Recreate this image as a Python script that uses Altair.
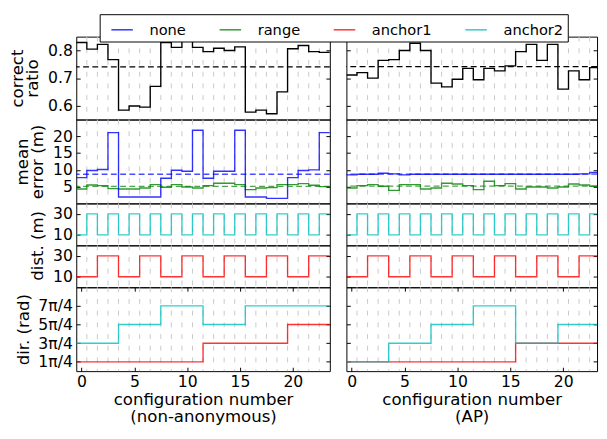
import altair as alt
import pandas as pd

FONT = "DejaVu Sans"

series_names = ["none", "range", "anchor1", "anchor2"]
series_colors = ["#0000ff", "#008000", "#ff0000", "#00bfbf"]

configs = list(range(24))
x_ticks = [0, 5, 10, 15, 20]

ratio_left = [0.829, 0.805, 0.822, 0.767, 0.584, 0.599, 0.595, 0.670,
              0.829, 0.811, 0.843, 0.811, 0.796, 0.808, 0.800, 0.813,
              0.577, 0.584, 0.571, 0.650, 0.806, 0.818, 0.796, 0.793]
ratio_right = [0.711, 0.720, 0.700, 0.764, 0.767, 0.800, 0.826, 0.800,
               0.682, 0.668, 0.696, 0.735, 0.694, 0.735, 0.726, 0.744,
               0.796, 0.822, 0.764, 0.822, 0.660, 0.726, 0.694, 0.738]
err_none_left = [7.7, 9.8, 10.1, 21.1, 1.9, 1.9, 1.9, 1.9,
                 7.5, 9.9, 9.6, 21.8, 7.5, 9.6, 9.6, 21.8,
                 1.9, 1.9, 1.5, 1.5, 7.7, 9.8, 10.0, 21.1]
err_range_left = [4.3, 5.5, 5.3, 4.4, 4.3, 4.3, 4.6, 5.6,
                  4.8, 5.6, 4.9, 4.6, 5.3, 6.0, 6.0, 5.6,
                  4.1, 4.6, 4.7, 5.6, 5.6, 5.9, 5.4, 5.0]
err_none_right = [8.5, 8.7, 8.7, 9.0, 8.8, 8.5, 8.7, 8.7,
                  8.7, 8.7, 8.7, 8.7, 8.7, 8.7, 8.7, 8.7,
                  8.7, 8.7, 8.7, 8.7, 8.7, 8.7, 8.8, 9.2]
err_range_right = [4.6, 5.3, 5.6, 5.1, 3.9, 5.6, 5.6, 4.3,
                   4.6, 6.0, 5.8, 5.3, 4.1, 6.6, 5.3, 5.9,
                   4.3, 4.9, 4.9, 4.6, 4.9, 5.8, 5.5, 5.1]
dist_anchor2 = [10, 30, 10, 30, 10, 30, 10, 30, 10, 30, 10, 30,
                10, 30, 10, 30, 10, 30, 10, 30, 10, 30, 10, 30]
dist_anchor1 = [10, 10, 30, 30, 10, 10, 30, 30, 10, 10, 30, 30,
                10, 10, 30, 30, 10, 10, 30, 30, 10, 10, 30, 30]
# direction in units of pi/4
dir_anchor1_left = [1, 1, 1, 1, 1, 1, 1, 1, 1, 1, 1, 1,
                    3, 3, 3, 3, 3, 3, 3, 3, 5, 5, 5, 5]
dir_anchor2_left = [3, 3, 3, 3, 5, 5, 5, 5, 7, 7, 7, 7,
                    5, 5, 5, 5, 7, 7, 7, 7, 7, 7, 7, 7]
dir_anchor1_right = [1, 1, 1, 1, 1, 1, 1, 1, 1, 1, 1, 1,
                     1, 1, 1, 1, 3, 3, 3, 3, 3, 3, 3, 3]
dir_anchor2_right = [1, 1, 1, 1, 3, 3, 3, 3, 5, 5, 5, 5,
                     7, 7, 7, 7, 3, 3, 3, 3, 5, 5, 5, 5]
dir_ticks = [1, 3, 5, 7]

LEFT_W, RIGHT_W = 260, 257
LEFT_DOM, RIGHT_DOM = [-0.5, 23.5], [-0.5, 23.2]
HEIGHTS = [85, 86, 43, 43, 86]
LAB = 16
TIT = 17

cscale = alt.Scale(domain=series_names, range=series_colors)
LEG = alt.Legend(orient="none", legendX=24, legendY=-23, offset=0,
                 direction="horizontal",
                 columns=4, title=None, symbolType="stroke", symbolSize=484,
                 symbolStrokeWidth=1.5, labelFont=FONT, labelFontSize=15,
                 labelColor="black", labelOffset=16, columnPadding=26, padding=4,
                 symbolOffset=7, strokeColor="black", fillColor="white",
                 cornerRadius=0)


def steps(values, name):
    xs = [c - 0.5 for c in configs] + [configs[-1] + 0.5]
    vs = list(values) + [values[-1]]
    return pd.DataFrame({"x": xs, "v": vs, "s": name})


bounds = pd.DataFrame({"b": [c + 0.5 for c in configs[:-1]]})


def panel(frames, width, x_dom, height, y_dom, y_ticks, left_labels,
          y_title=None, title_y=None, fmt=None, label_expr=None,
          mean=False, colored=True, x_title=None, legend=False):
    data = pd.concat(frames, ignore_index=True)
    xs = alt.Scale(domain=x_dom, nice=False, zero=False)
    ys = alt.Scale(domain=y_dom, nice=False, zero=False)
    lkw = dict(orient="left", values=y_ticks, offset=-4, tickSize=4,
               domain=False, grid=False, labels=left_labels, labelPadding=4,
               titlePadding=6, titleLineHeight=15.5)
    if fmt:
        lkw["format"] = fmt
    if label_expr:
        lkw["labelExpr"] = label_expr
    if left_labels and y_title is not None:
        lkw["title"] = y_title
        if title_y is not None:
            lkw["titleY"] = title_y
    else:
        lkw["title"] = None
    laxis = alt.Axis(**lkw)
    raxis = alt.Axis(orient="right", values=y_ticks, offset=-4, tickSize=4,
                     domain=False, grid=False, labels=False, title=None)
    if x_title is not None:
        xaxis = alt.Axis(orient="bottom", values=x_ticks, offset=-4, tickSize=4,
                         domain=False, grid=False, labelPadding=3,
                         title=x_title, titlePadding=2, titleLineHeight=18)
        xaxis_top = alt.Axis(orient="top", values=x_ticks, offset=-4, tickSize=4,
                             domain=False, grid=False, labels=False, title=None)
    else:
        xaxis = None
        xaxis_top = None

    if colored:
        col = alt.Color("s:N", scale=cscale, legend=LEG if legend else None)
    else:
        col = alt.value("black")

    base = alt.Chart(data)
    grid = alt.Chart(bounds).mark_rule(color="#c8c8c8", strokeDash=[5, 7],
                                       strokeWidth=1).encode(
        x=alt.X("b:Q", scale=xs, axis=None))
    line = base.mark_line(interpolate="step-after", clip=True,
                          strokeWidth=1.4,
                          opacity=0.8 if colored else 1).encode(
        x=alt.X("x:Q", scale=xs, axis=xaxis),
        y=alt.Y("v:Q", scale=ys, axis=laxis),
        color=col, order=alt.Order("x:Q"))
    ghost = base.mark_line(interpolate="step-after", clip=True, opacity=0).encode(
        x=alt.X("x:Q", scale=xs, axis=xaxis_top),
        y=alt.Y("v:Q", scale=ys, axis=raxis),
        detail="s:N", order=alt.Order("x:Q"))
    layers = [grid, line]
    if mean:
        if colored:
            mcol = alt.Color("s:N", scale=cscale, legend=None)
        else:
            mcol = alt.value("black")
        m = base.transform_filter(f"datum.x < {configs[-1]}").mark_rule(
            strokeDash=[6, 3.5], strokeWidth=1.4,
            opacity=0.7 if colored else 1).encode(
            y=alt.Y("mean(v):Q", scale=ys, axis=None), color=mcol)
        layers.append(m)
    layers.append(ghost)
    return alt.layer(*layers).resolve_scale(x="independent", y="independent").properties(
        width=width, height=height)


def column(side):
    left = side == "left"
    W = LEFT_W if left else RIGHT_W
    D = LEFT_DOM if left else RIGHT_DOM
    ratio = ratio_left if left else ratio_right
    en = err_none_left if left else err_none_right
    er = err_range_left if left else err_range_right
    d1 = dir_anchor1_left if left else dir_anchor1_right
    d2 = dir_anchor2_left if left else dir_anchor2_right
    xt = ["configuration number", "(non-anonymous)"] if left else ["configuration number", "(AP)"]
    p1 = panel([steps(ratio, "ratio")], W, D, HEIGHTS[0], [0.55, 0.85], [0.6, 0.7, 0.8],
               left, y_title=["correct", "ratio"], fmt=".1f", mean=True, colored=False)
    p2 = panel([steps(er, "range"), steps(en, "none")], W, D, HEIGHTS[1], [0, 25],
               [5, 10, 15, 20], left, y_title=["mean", "error (m)"], mean=True,
               legend=True)
    p3 = panel([steps(dist_anchor2, "anchor2")], W, D, HEIGHTS[2], [0, 40], [10, 30],
               left, y_title="dist. (m)", title_y=HEIGHTS[2])
    p4 = panel([steps(dist_anchor1, "anchor1")], W, D, HEIGHTS[3], [0, 40], [10, 30],
               left)
    p5 = panel([steps(d1, "anchor1"), steps(d2, "anchor2")], W, D, HEIGHTS[4], [0, 9],
               dir_ticks, left, y_title="dir. (rad)",
               label_expr="datum.value + 'π/4'", x_title=xt)
    return alt.vconcat(p1, p2, p3, p4, p5, spacing=0, bounds="flush")


chart = alt.hconcat(column("left"), column("right"), spacing=13).properties(
    padding={"left": 0, "top": 0, "right": 0, "bottom": 0}
).configure_view(stroke="black", strokeWidth=1).configure_axis(
    labelFont=FONT, titleFont=FONT, labelFontSize=LAB, titleFontSize=TIT,
    titleFontWeight="normal", labelColor="black", titleColor="black",
    tickColor="black", tickWidth=1
)

chart.save("out.html", embed_options={"renderer": "svg", "actions": False})
